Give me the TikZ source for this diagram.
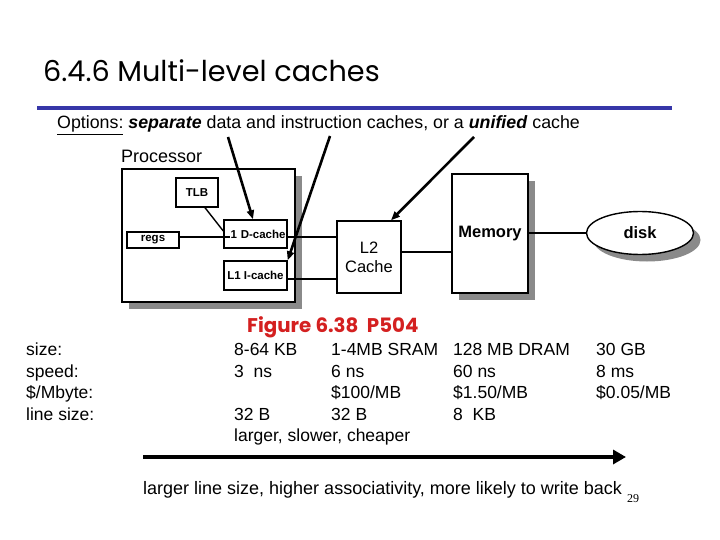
\documentclass[tikz,border=0pt]{standalone}
\usepackage{fontspec}
\setmainfont{Liberation Sans}
\newfontfamily\titlefont{Poppins}
\newfontfamily\pagenumfont{Liberation Serif}
\usetikzlibrary{shapes.geometric,arrows.meta,shadows}
\definecolor{rulecol}{HTML}{3636A8}
\definecolor{figred}{HTML}{D42020}
\definecolor{shadowgray}{HTML}{8A8A8A}
\begin{document}
\begin{tikzpicture}[x=1pt,y=-1pt,
  box/.style={draw,line width=1.4pt,fill=white,inner sep=0pt},
  shadowed/.style={general shadow={fill=shadowgray,shadow xshift=7pt,shadow yshift=-7pt}},
  conn/.style={line width=1.4pt},
  pointer/.style={line width=2.6pt,-{Triangle[length=9pt,width=7pt]}},
  lbl/.style={anchor=base west,inner sep=0pt,font=\fontsize{17.5}{20}\selectfont},
  smallbold/.style={font=\fontsize{11.5}{13}\selectfont\bfseries},
]
\useasboundingbox (0,0) rectangle (720,540);
\fill[white] (0,0) rectangle (720,540);

% title and rule
\node[anchor=base west,inner sep=0pt,font=\titlefont\fontsize{28.7}{32}\selectfont] (title) at (43,82) {6.4.6 Multi-level caches};
\coordinate (ruleL) at (37,108);
\coordinate (ruleR) at (672,108);
\draw[rulecol,line width=4pt] (ruleL) -- (ruleR);

\node[anchor=base west,inner sep=0pt,font=\fontsize{17.8}{20}\selectfont] (options) at (57,129)
  {\underline{Options:} \textbf{\textit{separate}} data and instruction caches, or a \textbf{\textit{unified}} cache};

\node[anchor=base west,inner sep=0pt,font=\fontsize{18}{20}\selectfont] (proclbl) at (121,163) {Processor};

% boxes
\node[box,shadowed,minimum width=173pt,minimum height=133pt] (proc) at (208.5,235.5) {};
\node[box,smallbold,minimum width=42pt,minimum height=29pt] (tlb) at (197,192.5) {TLB};
\node[box,smallbold,minimum width=52pt,minimum height=16pt] (regs) at (153,240) {regs};
\node[box,smallbold,minimum width=63pt,minimum height=28pt,text width=60pt,align=right] (dcache) at (255.5,234) {1 D-cache};
\node[box,smallbold,minimum width=63pt,minimum height=29pt] (icache) at (255.5,275.5) {L1 I-cache};
\node[box,font=\fontsize{16.5}{19}\selectfont,align=center,minimum width=64pt,minimum height=72pt] (l2) at (369,257) {L2\\Cache};
\node[box,shadowed,font=\fontsize{16.5}{19}\selectfont\bfseries,minimum width=76pt,minimum height=119pt] (mem) at (490,233.5) {Memory};
\node[box,ellipse,shadowed,font=\fontsize{16.5}{19}\selectfont\bfseries,minimum width=107pt,minimum height=43pt] (disk) at (640,233) {disk};

% connectors
\draw[conn] (regs.east |- 0,237) -- ([xshift=7pt]dcache.west |- 0,237);
\draw[conn] ([xshift=8pt]tlb.south) -- ([yshift=3pt]dcache.west);
\draw[conn] (dcache.east |- 0,237) -- (l2.west |- 0,237);
\draw[conn] (icache.east |- 0,279) -- (l2.west |- 0,279);
\draw[conn] (l2.east |- 0,252) -- (mem.west |- 0,252);
\draw[conn] (mem.east |- disk.west) -- (disk.west);

% pointer arrows
\coordinate (p1) at (228,137);
\coordinate (p2) at (330,136);
\coordinate (p3) at (474,137);
\draw[pointer] (p1) -- ([xshift=-2.5pt]dcache.north);
\draw[pointer] (p2) -- (icache.north east);
\draw[pointer] (p3) -- ([xshift=22pt]l2.north);

% figure label
\node[anchor=base west,inner sep=0pt,text=figred,font=\titlefont\fontsize{19.8}{22}\selectfont\bfseries] (fig) at (247,332) {Figure 6.38\ \ P504};

% table
\node[lbl] (r1) at (26,355) {size:};
\node[lbl] (r2) at (26,377) {speed:};
\node[lbl] (r3) at (26,398) {\$/Mbyte:};
\node[lbl] (r4) at (26,420) {line size:};

\node[lbl] (c11) at (234,355) {8-64 KB};
\node[lbl] (c12) at (234,377) {3\ \ ns};
\node[lbl] (c14) at (234,420) {32 B};
\node[lbl] (c15) at (234,441) {larger, slower, cheaper};

\node[lbl] (c21) at (331,355) {1-4MB SRAM};
\node[lbl] (c22) at (331,377) {6 ns};
\node[lbl] (c23) at (331,398) {\$100/MB};
\node[lbl] (c24) at (331,420) {32 B};

\node[lbl] (c31) at (453,355) {128 MB DRAM};
\node[lbl] (c32) at (453,377) {60 ns};
\node[lbl] (c33) at (453,398) {\$1.50/MB};
\node[lbl] (c34) at (453,420) {8\ \ KB};

\node[lbl] (c41) at (596,355) {30 GB};
\node[lbl] (c42) at (596,377) {8 ms};
\node[lbl] (c43) at (596,398) {\$0.05/MB};

% big arrow
\coordinate (bigL) at (143,457);
\coordinate (bigR) at (626,457);
\draw[line width=4pt,-{Triangle[length=13pt,width=14pt]}] (bigL) -- (bigR);

\node[lbl,font=\fontsize{18}{21}\selectfont] (bottom) at (143,494) {larger line size, higher associativity, more likely to write back};
\node[anchor=base west,inner sep=0pt,font=\pagenumfont\fontsize{12}{14}\selectfont] (pnum) at (627,502) {29};
\end{tikzpicture}
\end{document}
